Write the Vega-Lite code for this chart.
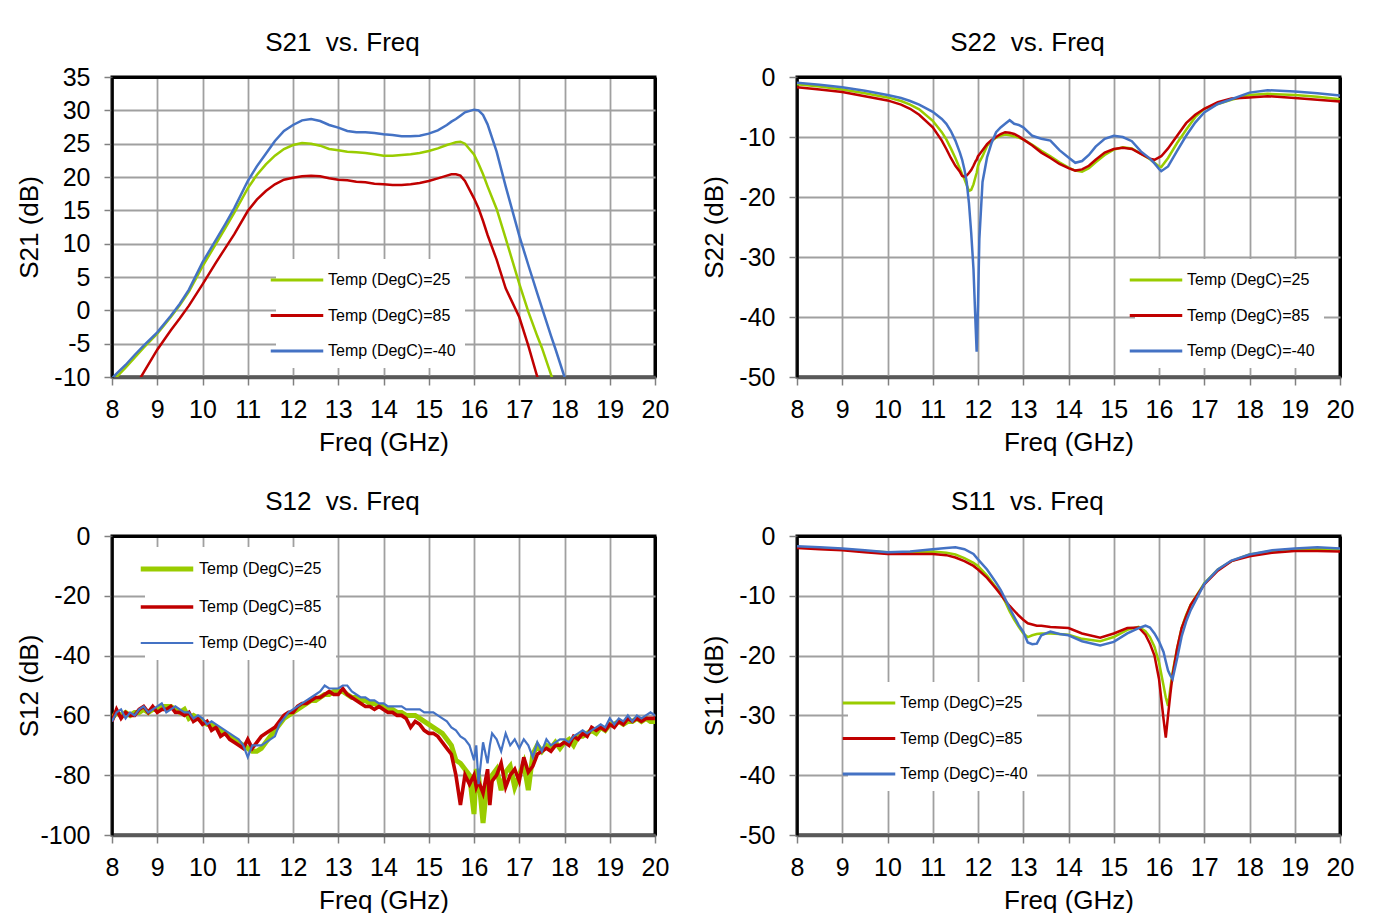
{
  "$schema": "https://vega.github.io/schema/vega-lite/v6.json",
  "background": "#ffffff",
  "padding": {"top": 28, "left": 14, "right": 5, "bottom": 0},
  "config": {
    "font": "Liberation Sans",
    "view": {"stroke": "#000000", "strokeWidth": 3},
    "title": {"font": "Liberation Sans", "fontSize": 26, "fontWeight": "normal", "color": "#000000", "anchor": "middle", "frame": "bounds", "offset": 9},
    "axis": {
      "labelFont": "Liberation Sans", "labelFontSize": 25, "labelColor": "#000000",
      "titleFont": "Liberation Sans", "titleFontSize": 26, "titleFontWeight": "normal", "titleColor": "#000000",
      "gridOpacity": 1,
      "tickColor": "#808080", "tickSize": 8, "tickWidth": 1.5,
      "labelExpr": "'' + datum.value"
    },
    "axisX": {"domainColor": "#595959", "domainWidth": 3.5, "labelPadding": 12, "titlePadding": 7, "labelFlush": false, "labelOverlap": false,
      "gridColor": {"condition": {"test": "datum.value == 20", "value": "#000000"}, "value": "#a0a0a0"},
      "gridWidth": {"condition": {"test": "datum.value == 20", "value": 3}, "value": 1.8}},
    "axisY": {"domainColor": "#000000", "domainWidth": 2.5, "labelPadding": 14, "titlePadding": 8, "minExtent": 62, "maxExtent": 62, "labelOverlap": false,
      "gridColor": {"condition": {"test": "datum.value == 0 || datum.value == 35", "value": "#000000"}, "value": "#a0a0a0"},
      "gridWidth": {"condition": {"test": "datum.value == 0 || datum.value == 35", "value": 3}, "value": 1.8}},
    "legend": {
      "labelFont": "Liberation Sans", "labelFontSize": 16, "labelColor": "#000000",
      "symbolType": "M-2.5,0H2.5", "symbolStrokeWidth": 3, "symbolSize": 441, "labelOffset": 19,
      "fillColor": "#ffffff", "padding": 9, "rowPadding": 15.5, "orient": "none"
    }
  },
  "datasets": {
    "s21": [
      {"f": 8.0, "a": -10.9, "b": -17.0, "c": -10.2},
      {"f": 8.1, "a": -10.0, "b": -16.0, "c": -9.5},
      {"f": 8.3, "a": -8.6, "b": -13.5, "c": -8.2},
      {"f": 8.5, "a": -7.1, "b": -11.6, "c": -6.7},
      {"f": 8.7, "a": -5.6, "b": -9.3, "c": -5.3},
      {"f": 9.0, "a": -3.5, "b": -5.9, "c": -3.3},
      {"f": 9.3, "a": -1.0, "b": -3.0, "c": -0.8},
      {"f": 9.5, "a": 0.8, "b": -1.2, "c": 1.0},
      {"f": 9.7, "a": 2.8, "b": 0.7, "c": 3.1},
      {"f": 10.0, "a": 6.6, "b": 3.9, "c": 7.2},
      {"f": 10.3, "a": 10.0, "b": 7.2, "c": 10.6},
      {"f": 10.5, "a": 12.3, "b": 9.3, "c": 12.9},
      {"f": 10.7, "a": 14.6, "b": 11.4, "c": 15.3},
      {"f": 11.0, "a": 18.3, "b": 14.9, "c": 19.4},
      {"f": 11.2, "a": 20.3, "b": 16.6, "c": 21.6},
      {"f": 11.4, "a": 21.9, "b": 17.9, "c": 23.5},
      {"f": 11.6, "a": 23.2, "b": 18.9, "c": 25.4},
      {"f": 11.8, "a": 24.2, "b": 19.6, "c": 26.9},
      {"f": 12.0, "a": 24.8, "b": 19.9, "c": 27.8},
      {"f": 12.2, "a": 25.1, "b": 20.1, "c": 28.5},
      {"f": 12.4, "a": 25.0, "b": 20.2, "c": 28.7},
      {"f": 12.6, "a": 24.7, "b": 20.1, "c": 28.4},
      {"f": 12.8, "a": 24.2, "b": 19.8, "c": 27.8},
      {"f": 13.0, "a": 24.0, "b": 19.6, "c": 27.4},
      {"f": 13.2, "a": 23.8, "b": 19.5, "c": 26.9},
      {"f": 13.4, "a": 23.7, "b": 19.3, "c": 26.7},
      {"f": 13.6, "a": 23.6, "b": 19.2, "c": 26.7},
      {"f": 13.8, "a": 23.4, "b": 19.0, "c": 26.6},
      {"f": 14.0, "a": 23.2, "b": 18.9, "c": 26.4},
      {"f": 14.2, "a": 23.2, "b": 18.8, "c": 26.3},
      {"f": 14.4, "a": 23.3, "b": 18.8, "c": 26.1},
      {"f": 14.6, "a": 23.4, "b": 18.9, "c": 26.1},
      {"f": 14.8, "a": 23.6, "b": 19.1, "c": 26.2},
      {"f": 15.0, "a": 23.9, "b": 19.4, "c": 26.5},
      {"f": 15.2, "a": 24.3, "b": 19.8, "c": 27.0},
      {"f": 15.4, "a": 24.8, "b": 20.2, "c": 27.8},
      {"f": 15.5, "a": 25.0, "b": 20.4, "c": 28.3},
      {"f": 15.6, "a": 25.2, "b": 20.4, "c": 28.7},
      {"f": 15.7, "a": 25.3, "b": 20.2, "c": 29.2},
      {"f": 15.8, "a": 25.0, "b": 19.4, "c": 29.7},
      {"f": 16.0, "a": 23.4, "b": 16.8, "c": 30.1},
      {"f": 16.1, "a": 22.0, "b": 15.3, "c": 30.0},
      {"f": 16.2, "a": 20.4, "b": 13.4, "c": 29.3},
      {"f": 16.3, "a": 18.6, "b": 11.3, "c": 27.9},
      {"f": 16.5, "a": 15.2, "b": 7.6, "c": 23.8},
      {"f": 16.7, "a": 10.8, "b": 3.3, "c": 18.6},
      {"f": 17.0, "a": 4.0, "b": -1.0, "c": 11.2},
      {"f": 17.2, "a": -0.2, "b": -5.3, "c": 6.8},
      {"f": 17.4, "a": -3.9, "b": -10.0, "c": 2.5},
      {"f": 17.5, "a": -5.6, "b": -12.0, "c": 0.4},
      {"f": 17.7, "a": -9.6, "b": -16.0, "c": -3.8},
      {"f": 17.8, "a": -11.5, "b": -18.0, "c": -5.8},
      {"f": 18.0, "a": -15.0, "b": -22.0, "c": -10.0},
      {"f": 18.1, "a": -17.0, "b": -24.0, "c": -12.0}
    ],
    "s22": [
      {"f": 8.0, "a": -1.2, "b": -1.7, "c": -0.95},
      {"f": 8.5, "a": -1.6, "b": -2.1, "c": -1.3},
      {"f": 9.0, "a": -2.1, "b": -2.5, "c": -1.7},
      {"f": 9.5, "a": -2.7, "b": -3.2, "c": -2.3},
      {"f": 10.0, "a": -3.4, "b": -3.9, "c": -3.0},
      {"f": 10.3, "a": -4.0, "b": -4.6, "c": -3.5},
      {"f": 10.5, "a": -4.6, "b": -5.3, "c": -4.0},
      {"f": 10.7, "a": -5.4, "b": -6.3, "c": -4.6},
      {"f": 11.0, "a": -7.3, "b": -8.4, "c": -5.8},
      {"f": 11.2, "a": -9.2, "b": -10.6, "c": -7.0},
      {"f": 11.3, "a": -10.4, "b": -12.0, "c": -7.8},
      {"f": 11.4, "a": -11.9, "b": -13.5, "c": -9.0},
      {"f": 11.5, "a": -13.5, "b": -14.8, "c": -10.6},
      {"f": 11.6, "a": -15.3, "b": -15.8, "c": -12.6},
      {"f": 11.65, "a": -16.2, "b": -16.5, "c": -13.8},
      {"f": 11.7, "a": -17.0, "b": -16.6, "c": -15.4},
      {"f": 11.75, "a": -18.0, "b": -16.4, "c": -17.5},
      {"f": 11.8, "a": -19.0, "b": -16.0, "c": -21.0},
      {"f": 11.85, "a": -18.8, "b": -15.5, "c": -26.0},
      {"f": 11.9, "a": -17.9, "b": -14.8, "c": -32.0},
      {"f": 11.95, "a": -16.5, "b": -14.0, "c": -42.0},
      {"f": 11.97, "a": -16.0, "b": -13.8, "c": -45.8},
      {"f": 12.0, "a": -14.8, "b": -13.2, "c": -38.0},
      {"f": 12.03, "a": -14.2, "b": -12.9, "c": -27.0},
      {"f": 12.1, "a": -13.2, "b": -12.2, "c": -17.5},
      {"f": 12.2, "a": -11.5, "b": -11.2, "c": -13.4},
      {"f": 12.3, "a": -10.7, "b": -10.5, "c": -11.0},
      {"f": 12.4, "a": -10.1, "b": -10.0, "c": -9.2},
      {"f": 12.5, "a": -9.8, "b": -9.5, "c": -8.4},
      {"f": 12.6, "a": -9.6, "b": -9.2, "c": -7.8},
      {"f": 12.7, "a": -9.7, "b": -9.3, "c": -7.2},
      {"f": 12.8, "a": -9.9, "b": -9.5, "c": -7.8},
      {"f": 12.9, "a": -10.1, "b": -9.9, "c": -8.0},
      {"f": 13.0, "a": -10.4, "b": -10.4, "c": -8.4},
      {"f": 13.2, "a": -11.3, "b": -11.4, "c": -9.8},
      {"f": 13.4, "a": -12.3, "b": -12.6, "c": -10.3},
      {"f": 13.6, "a": -13.2, "b": -13.5, "c": -10.6},
      {"f": 13.8, "a": -14.2, "b": -14.5, "c": -12.2},
      {"f": 14.0, "a": -15.1, "b": -15.2, "c": -13.4},
      {"f": 14.15, "a": -15.6, "b": -15.6, "c": -14.3},
      {"f": 14.3, "a": -15.8, "b": -15.4, "c": -14.0},
      {"f": 14.45, "a": -15.2, "b": -14.8, "c": -13.0},
      {"f": 14.6, "a": -14.2, "b": -13.8, "c": -11.6},
      {"f": 14.8, "a": -13.0, "b": -12.6, "c": -10.3},
      {"f": 15.0, "a": -12.1, "b": -12.0, "c": -9.8},
      {"f": 15.2, "a": -11.7, "b": -11.8, "c": -10.0},
      {"f": 15.4, "a": -11.9, "b": -12.0, "c": -10.7},
      {"f": 15.6, "a": -12.8, "b": -12.8, "c": -12.4},
      {"f": 15.8, "a": -13.7, "b": -13.6, "c": -13.6},
      {"f": 15.9, "a": -14.3, "b": -13.8, "c": -14.4},
      {"f": 16.0, "a": -14.9, "b": -13.4, "c": -15.3},
      {"f": 16.05, "a": -15.0, "b": -13.2, "c": -15.7},
      {"f": 16.2, "a": -13.5, "b": -11.9, "c": -14.9},
      {"f": 16.4, "a": -11.0, "b": -9.8, "c": -12.3},
      {"f": 16.6, "a": -8.8, "b": -7.7, "c": -9.8},
      {"f": 16.8, "a": -6.7, "b": -6.3, "c": -7.6},
      {"f": 17.0, "a": -5.3, "b": -5.3, "c": -5.9},
      {"f": 17.3, "a": -4.5, "b": -4.2, "c": -4.5},
      {"f": 17.6, "a": -3.8, "b": -3.6, "c": -3.7},
      {"f": 18.0, "a": -3.0, "b": -3.4, "c": -2.6},
      {"f": 18.4, "a": -2.8, "b": -3.2, "c": -2.2},
      {"f": 19.0, "a": -3.0, "b": -3.5, "c": -2.4},
      {"f": 19.5, "a": -3.3, "b": -3.8, "c": -2.7},
      {"f": 20.0, "a": -3.7, "b": -4.1, "c": -3.1}
    ],
    "s12": [
      {"f": 8.0, "a": -61, "b": -62, "c": -62},
      {"f": 8.1, "a": -59, "b": -58, "c": -59},
      {"f": 8.2, "a": -60, "b": -61, "c": -58},
      {"f": 8.3, "a": -59, "b": -59, "c": -61},
      {"f": 8.4, "a": -60, "b": -60, "c": -59},
      {"f": 8.5, "a": -59, "b": -60, "c": -60},
      {"f": 8.6, "a": -59, "b": -58, "c": -58},
      {"f": 8.7, "a": -58, "b": -57, "c": -57},
      {"f": 8.8, "a": -59, "b": -59, "c": -59},
      {"f": 8.9, "a": -58, "b": -57, "c": -58},
      {"f": 9.0, "a": -58, "b": -59, "c": -57},
      {"f": 9.1, "a": -57, "b": -58, "c": -56},
      {"f": 9.2, "a": -57, "b": -58, "c": -59},
      {"f": 9.3, "a": -57, "b": -57, "c": -58},
      {"f": 9.4, "a": -58, "b": -59, "c": -57},
      {"f": 9.5, "a": -59, "b": -59, "c": -58},
      {"f": 9.6, "a": -58, "b": -60, "c": -59},
      {"f": 9.7, "a": -61, "b": -59, "c": -59},
      {"f": 9.8, "a": -60, "b": -62, "c": -61},
      {"f": 9.9, "a": -61, "b": -61, "c": -60},
      {"f": 10.0, "a": -62, "b": -63, "c": -61},
      {"f": 10.1, "a": -63, "b": -62, "c": -63},
      {"f": 10.2, "a": -63, "b": -65, "c": -62},
      {"f": 10.3, "a": -64, "b": -64, "c": -63},
      {"f": 10.4, "a": -65, "b": -67, "c": -64},
      {"f": 10.5, "a": -66, "b": -66, "c": -65},
      {"f": 10.6, "a": -67, "b": -68, "c": -66},
      {"f": 10.7, "a": -68, "b": -69, "c": -67},
      {"f": 10.8, "a": -69, "b": -70, "c": -68},
      {"f": 10.9, "a": -70, "b": -71, "c": -70},
      {"f": 11.0, "a": -71, "b": -68, "c": -74},
      {"f": 11.1, "a": -72, "b": -71, "c": -70},
      {"f": 11.2, "a": -72, "b": -69, "c": -70},
      {"f": 11.3, "a": -71, "b": -67, "c": -70},
      {"f": 11.4, "a": -69, "b": -66, "c": -69},
      {"f": 11.5, "a": -67, "b": -65, "c": -68},
      {"f": 11.6, "a": -65, "b": -64, "c": -67},
      {"f": 11.7, "a": -63, "b": -62, "c": -63},
      {"f": 11.8, "a": -61, "b": -60, "c": -61},
      {"f": 11.9, "a": -60, "b": -59, "c": -59},
      {"f": 12.0, "a": -59, "b": -59, "c": -58},
      {"f": 12.1, "a": -58, "b": -57, "c": -57},
      {"f": 12.2, "a": -57, "b": -56, "c": -56},
      {"f": 12.3, "a": -56, "b": -56, "c": -55},
      {"f": 12.4, "a": -55, "b": -55, "c": -54},
      {"f": 12.5, "a": -55, "b": -54, "c": -53},
      {"f": 12.6, "a": -54, "b": -54, "c": -52},
      {"f": 12.7, "a": -53, "b": -53, "c": -50},
      {"f": 12.8, "a": -53, "b": -52, "c": -51},
      {"f": 12.9, "a": -52, "b": -53, "c": -51},
      {"f": 13.0, "a": -52, "b": -53, "c": -51},
      {"f": 13.1, "a": -52, "b": -51, "c": -50},
      {"f": 13.2, "a": -53, "b": -53, "c": -50},
      {"f": 13.3, "a": -54, "b": -54, "c": -52},
      {"f": 13.4, "a": -54, "b": -55, "c": -53},
      {"f": 13.5, "a": -55, "b": -56, "c": -54},
      {"f": 13.6, "a": -55, "b": -57, "c": -54},
      {"f": 13.7, "a": -56, "b": -57, "c": -55},
      {"f": 13.8, "a": -56, "b": -58, "c": -55},
      {"f": 13.9, "a": -57, "b": -57, "c": -56},
      {"f": 14.0, "a": -57, "b": -58, "c": -56},
      {"f": 14.1, "a": -58, "b": -59, "c": -57},
      {"f": 14.2, "a": -58, "b": -59, "c": -57},
      {"f": 14.3, "a": -59, "b": -60, "c": -57},
      {"f": 14.4, "a": -59, "b": -60, "c": -57},
      {"f": 14.5, "a": -60, "b": -61, "c": -58},
      {"f": 14.6, "a": -60, "b": -64, "c": -58},
      {"f": 14.7, "a": -60, "b": -62, "c": -58},
      {"f": 14.8, "a": -61, "b": -63, "c": -58},
      {"f": 14.9, "a": -62, "b": -65, "c": -59},
      {"f": 15.0, "a": -63, "b": -66, "c": -59},
      {"f": 15.1, "a": -64, "b": -66, "c": -59},
      {"f": 15.2, "a": -65, "b": -67, "c": -60},
      {"f": 15.3, "a": -66, "b": -69, "c": -61},
      {"f": 15.4, "a": -68, "b": -71, "c": -62},
      {"f": 15.5, "a": -70, "b": -73, "c": -64},
      {"f": 15.6, "a": -75, "b": -80, "c": -65},
      {"f": 15.7, "a": -76, "b": -90, "c": -67},
      {"f": 15.8, "a": -78, "b": -80, "c": -68},
      {"f": 15.9, "a": -80, "b": -83, "c": -70},
      {"f": 16.0, "a": -93, "b": -80, "c": -75},
      {"f": 16.05, "a": -78, "b": -84, "c": -70},
      {"f": 16.1, "a": -80, "b": -82, "c": -83},
      {"f": 16.2, "a": -96, "b": -86, "c": -69},
      {"f": 16.3, "a": -81, "b": -78, "c": -76},
      {"f": 16.35, "a": -84, "b": -90, "c": -70},
      {"f": 16.4, "a": -80, "b": -82, "c": -66},
      {"f": 16.5, "a": -78, "b": -80, "c": -68},
      {"f": 16.6, "a": -85, "b": -76, "c": -72},
      {"f": 16.7, "a": -79, "b": -84, "c": -66},
      {"f": 16.8, "a": -77, "b": -80, "c": -70},
      {"f": 16.9, "a": -84, "b": -78, "c": -68},
      {"f": 17.0, "a": -80, "b": -82, "c": -71},
      {"f": 17.1, "a": -76, "b": -74, "c": -68},
      {"f": 17.2, "a": -85, "b": -79, "c": -70},
      {"f": 17.3, "a": -73, "b": -77, "c": -74},
      {"f": 17.4, "a": -70, "b": -73, "c": -69},
      {"f": 17.5, "a": -72, "b": -72, "c": -72},
      {"f": 17.6, "a": -70, "b": -71, "c": -68},
      {"f": 17.7, "a": -71, "b": -72, "c": -70},
      {"f": 17.8, "a": -69, "b": -70, "c": -69},
      {"f": 17.9, "a": -71, "b": -70, "c": -68},
      {"f": 18.0, "a": -69, "b": -69, "c": -68},
      {"f": 18.1, "a": -68, "b": -70, "c": -69},
      {"f": 18.2, "a": -70, "b": -67, "c": -67},
      {"f": 18.3, "a": -67, "b": -68, "c": -66},
      {"f": 18.4, "a": -67, "b": -66, "c": -65},
      {"f": 18.5, "a": -66, "b": -67, "c": -66},
      {"f": 18.6, "a": -65, "b": -64, "c": -65},
      {"f": 18.7, "a": -66, "b": -65, "c": -64},
      {"f": 18.8, "a": -64, "b": -64, "c": -63},
      {"f": 18.9, "a": -65, "b": -65, "c": -64},
      {"f": 19.0, "a": -63, "b": -63, "c": -61},
      {"f": 19.1, "a": -63, "b": -64, "c": -63},
      {"f": 19.2, "a": -62, "b": -62, "c": -61},
      {"f": 19.3, "a": -63, "b": -63, "c": -62},
      {"f": 19.4, "a": -62, "b": -61, "c": -60},
      {"f": 19.5, "a": -62, "b": -62, "c": -62},
      {"f": 19.6, "a": -61, "b": -61, "c": -60},
      {"f": 19.7, "a": -62, "b": -62, "c": -61},
      {"f": 19.8, "a": -61, "b": -61, "c": -60},
      {"f": 19.9, "a": -62, "b": -61, "c": -59},
      {"f": 20.0, "a": -62, "b": -61, "c": -60}
    ],
    "s11": [
      {"f": 8.0, "a": -1.85, "b": -2.0, "c": -1.7},
      {"f": 8.5, "a": -2.0, "b": -2.2, "c": -1.9},
      {"f": 9.0, "a": -2.2, "b": -2.4, "c": -2.1},
      {"f": 9.5, "a": -2.5, "b": -2.7, "c": -2.4},
      {"f": 10.0, "a": -2.7, "b": -3.0, "c": -2.7},
      {"f": 10.5, "a": -2.7, "b": -3.0, "c": -2.6},
      {"f": 11.0, "a": -2.6, "b": -3.0, "c": -2.2},
      {"f": 11.3, "a": -2.8, "b": -3.2, "c": -2.0},
      {"f": 11.5, "a": -3.1, "b": -3.6, "c": -1.9},
      {"f": 11.7, "a": -3.7, "b": -4.2, "c": -2.2},
      {"f": 11.9, "a": -4.5, "b": -5.0, "c": -3.0},
      {"f": 12.0, "a": -5.0, "b": -5.6, "c": -3.9},
      {"f": 12.2, "a": -6.6, "b": -7.0, "c": -5.6},
      {"f": 12.4, "a": -8.6, "b": -8.8, "c": -7.8},
      {"f": 12.5, "a": -9.6, "b": -9.8, "c": -9.0},
      {"f": 12.6, "a": -11.0, "b": -10.8, "c": -10.5},
      {"f": 12.7, "a": -12.6, "b": -11.7, "c": -12.1},
      {"f": 12.8, "a": -14.0, "b": -12.5, "c": -13.5},
      {"f": 12.9, "a": -15.2, "b": -13.3, "c": -14.9},
      {"f": 13.0, "a": -16.3, "b": -14.0, "c": -16.0},
      {"f": 13.1, "a": -16.9, "b": -14.6, "c": -17.8},
      {"f": 13.2, "a": -16.6, "b": -14.8, "c": -18.1},
      {"f": 13.3, "a": -16.4, "b": -15.0, "c": -18.0},
      {"f": 13.4, "a": -16.3, "b": -15.0, "c": -16.6},
      {"f": 13.6, "a": -16.3, "b": -15.2, "c": -16.0},
      {"f": 13.8, "a": -16.4, "b": -15.3, "c": -16.4},
      {"f": 14.0, "a": -16.5, "b": -15.4, "c": -16.6},
      {"f": 14.3, "a": -17.2, "b": -16.3, "c": -17.6},
      {"f": 14.7, "a": -17.6, "b": -17.0, "c": -18.3},
      {"f": 15.0, "a": -16.9, "b": -16.3, "c": -17.7},
      {"f": 15.3, "a": -15.7, "b": -15.4, "c": -16.3},
      {"f": 15.55, "a": -15.2, "b": -15.3, "c": -15.4},
      {"f": 15.7, "a": -15.9, "b": -16.5, "c": -15.0},
      {"f": 15.8, "a": -16.9, "b": -18.0, "c": -15.3},
      {"f": 15.9, "a": -18.5, "b": -20.0, "c": -16.3},
      {"f": 16.0, "a": -21.1, "b": -23.9, "c": -17.6},
      {"f": 16.1, "a": -25.0, "b": -30.6, "c": -19.4},
      {"f": 16.15, "a": -27.0, "b": -33.7, "c": -21.0},
      {"f": 16.2, "a": -28.4, "b": -30.0, "c": -22.5},
      {"f": 16.25, "a": -25.5, "b": -26.5, "c": -23.3},
      {"f": 16.3, "a": -22.8, "b": -23.3, "c": -23.9},
      {"f": 16.4, "a": -18.8, "b": -18.8, "c": -20.5},
      {"f": 16.5, "a": -15.4, "b": -15.4, "c": -16.8},
      {"f": 16.6, "a": -13.2, "b": -13.4, "c": -14.3},
      {"f": 16.7, "a": -11.5, "b": -11.5, "c": -12.4},
      {"f": 17.0, "a": -7.9, "b": -8.1, "c": -8.0},
      {"f": 17.3, "a": -5.6, "b": -5.8, "c": -5.6},
      {"f": 17.6, "a": -4.2, "b": -4.2, "c": -4.1},
      {"f": 18.0, "a": -3.1, "b": -3.4, "c": -3.1},
      {"f": 18.5, "a": -2.5, "b": -2.8, "c": -2.4},
      {"f": 19.0, "a": -2.2, "b": -2.5, "c": -2.1},
      {"f": 19.5, "a": -2.2, "b": -2.5, "c": -1.9},
      {"f": 20.0, "a": -2.2, "b": -2.6, "c": -2.1}
    ]
  },
  "spacing": 30,
  "resolve": {"scale": {"color": "independent", "strokeWidth": "independent"}, "legend": {"color": "independent", "strokeWidth": "independent"}},
  "vconcat": [
    {
      "spacing": 28,
      "resolve": {"scale": {"color": "independent", "strokeWidth": "independent"}, "legend": {"color": "independent", "strokeWidth": "independent"}},
      "hconcat": [
        {
          "width": 543, "height": 300,
          "title": "S21\u00a0 vs. Freq",
          "data": {"name": "s21"},
          "transform": [{"fold": ["a", "b", "c"], "as": ["k", "v"]}],
          "mark": {"type": "line", "clip": true, "strokeWidth": 2.5},
          "encoding": {
            "x": {"field": "f", "type": "quantitative", "scale": {"domain": [8, 20], "nice": false, "zero": false}, "axis": {"values": [8, 9, 10, 11, 12, 13, 14, 15, 16, 17, 18, 19, 20], "title": "Freq (GHz)"}},
            "y": {"field": "v", "type": "quantitative", "scale": {"domain": [-10, 35], "nice": false, "zero": false}, "axis": {"values": [-10, -5, 0, 5, 10, 15, 20, 25, 30, 35], "title": "S21 (dB)",
              "gridColor": {"condition": {"test": "datum.value == 35", "value": "#000000"}, "value": "#a0a0a0"},
              "gridWidth": {"condition": {"test": "datum.value == 35", "value": 3}, "value": 1.8}}},
            "color": {"field": "k", "type": "nominal", "scale": {"domain": ["a", "b", "c"], "range": ["#99CC00", "#C00000", "#4472C4"]},
              "legend": {"title": null, "legendX": 164, "legendY": 182, "labelExpr": "datum.value == 'a' ? 'Temp (DegC)=25' : datum.value == 'b' ? 'Temp (DegC)=85' : 'Temp (DegC)=-40'"}}
          }
        },
        {
          "width": 543, "height": 300,
          "title": "S22\u00a0 vs. Freq",
          "data": {"name": "s22"},
          "transform": [{"fold": ["a", "b", "c"], "as": ["k", "v"]}],
          "mark": {"type": "line", "clip": true, "strokeWidth": 2.5},
          "encoding": {
            "x": {"field": "f", "type": "quantitative", "scale": {"domain": [8, 20], "nice": false, "zero": false}, "axis": {"values": [8, 9, 10, 11, 12, 13, 14, 15, 16, 17, 18, 19, 20], "title": "Freq (GHz)"}},
            "y": {"field": "v", "type": "quantitative", "scale": {"domain": [-50, 0], "nice": false}, "axis": {"values": [-50, -40, -30, -20, -10, 0], "title": "S22 (dB)"}},
            "color": {"field": "k", "type": "nominal", "scale": {"domain": ["a", "b", "c"], "range": ["#99CC00", "#C00000", "#4472C4"]},
              "legend": {"title": null, "legendX": 338, "legendY": 182, "labelExpr": "datum.value == 'a' ? 'Temp (DegC)=25' : datum.value == 'b' ? 'Temp (DegC)=85' : 'Temp (DegC)=-40'"}}
          }
        }
      ]
    },
    {
      "spacing": 28,
      "resolve": {"scale": {"color": "independent", "strokeWidth": "independent"}, "legend": {"color": "independent", "strokeWidth": "independent"}},
      "hconcat": [
        {
          "width": 543, "height": 299,
          "title": "S12\u00a0 vs. Freq",
          "data": {"name": "s12"},
          "transform": [{"fold": ["a", "b", "c"], "as": ["k", "v"]}],
          "mark": {"type": "line", "clip": true},
          "encoding": {
            "x": {"field": "f", "type": "quantitative", "scale": {"domain": [8, 20], "nice": false, "zero": false}, "axis": {"values": [8, 9, 10, 11, 12, 13, 14, 15, 16, 17, 18, 19, 20], "title": "Freq (GHz)"}},
            "y": {"field": "v", "type": "quantitative", "scale": {"domain": [-100, 0], "nice": false}, "axis": {"values": [-100, -80, -60, -40, -20, 0], "title": "S12 (dB)"}},
            "color": {"field": "k", "type": "nominal", "scale": {"domain": ["a", "b", "c"], "range": ["#99CC00", "#C00000", "#4472C4"]},
              "legend": {"title": null, "legendX": 33, "legendY": 11, "labelExpr": "datum.value == 'a' ? 'Temp (DegC)=25' : datum.value == 'b' ? 'Temp (DegC)=85' : 'Temp (DegC)=-40'"}},
            "strokeWidth": {"field": "k", "type": "nominal", "scale": {"domain": ["a", "b", "c"], "range": [5, 2.2, 2.2]},
              "legend": {"title": null, "legendX": 33, "legendY": 11, "labelExpr": "datum.value == 'a' ? 'Temp (DegC)=25' : datum.value == 'b' ? 'Temp (DegC)=85' : 'Temp (DegC)=-40'"}}
          }
        },
        {
          "width": 543, "height": 299,
          "title": "S11\u00a0 vs. Freq",
          "data": {"name": "s11"},
          "transform": [{"fold": ["a", "b", "c"], "as": ["k", "v"]}],
          "mark": {"type": "line", "clip": true, "strokeWidth": 2.5},
          "encoding": {
            "x": {"field": "f", "type": "quantitative", "scale": {"domain": [8, 20], "nice": false, "zero": false}, "axis": {"values": [8, 9, 10, 11, 12, 13, 14, 15, 16, 17, 18, 19, 20], "title": "Freq (GHz)"}},
            "y": {"field": "v", "type": "quantitative", "scale": {"domain": [-50, 0], "nice": false}, "axis": {"values": [-50, -40, -30, -20, -10, 0], "title": "S11 (dB)"}},
            "color": {"field": "k", "type": "nominal", "scale": {"domain": ["a", "b", "c"], "range": ["#99CC00", "#C00000", "#4472C4"]},
              "legend": {"title": null, "legendX": 51, "legendY": 146, "labelExpr": "datum.value == 'a' ? 'Temp (DegC)=25' : datum.value == 'b' ? 'Temp (DegC)=85' : 'Temp (DegC)=-40'"}}
          }
        }
      ]
    }
  ]
}
